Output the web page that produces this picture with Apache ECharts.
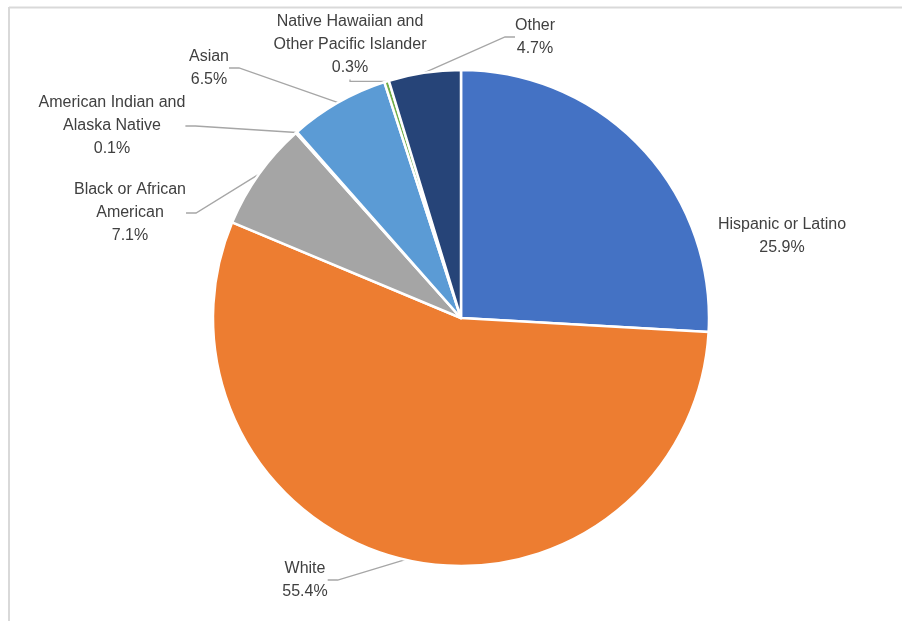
<!DOCTYPE html>
<html>
<head>
<meta charset="utf-8">
<script src="https://cdn.jsdelivr.net/npm/echarts@6/dist/echarts.min.js"></script>
<style>
html,body{margin:0;padding:0;background:#fff;}
#main{width:902px;height:621px;}
</style>
</head>
<body>
<div id="main"></div>
<script>
// race / ethnicity shares, clockwise from 12 o'clock
var groups = ['Hispanic or Latino', 'White', 'Black or African\nAmerican', 'American Indian and\nAlaska Native', 'Asian', 'Native Hawaiian and\nOther Pacific Islander', 'Other'];
var shares = [25.9, 55.4, 7.1, 0.1, 6.5, 0.3, 4.7];

var sliceColors = ['#4472C4', '#ED7D31', '#A5A5A5', '#FFC000', '#5B9BD5', '#70AD47', '#264478'];
// where each label sits (centre of text block)
var labelSpots = [[782, 236], [305, 580], [130, 213], [112, 126], [209, 68], [350, 45], [535, 37]];

var myChart = echarts.init(document.getElementById('main'));

var pieData = [];
for (var i = 0; i < groups.length; i++) {
  pieData.push({
    name: groups[i],
    value: shares[i],
    itemStyle: { color: sliceColors[i] },
    labelLine: { show: i != 0 }
  });
}

var option = {
  backgroundColor: '#fff',
  animation: false,
  graphic: [
    { type: 'line', shape: { x1: 9, y1: 7.5, x2: 902, y2: 7.5 }, style: { stroke: '#d9d9d9', lineWidth: 2 } },
    { type: 'line', shape: { x1: 9, y1: 7, x2: 9, y2: 621 }, style: { stroke: '#d9d9d9', lineWidth: 2 } }
  ],
  series: [{
    type: 'pie',
    center: [461, 318],
    radius: 248,
    startAngle: 90,
    clockwise: true,
    avoidLabelOverlap: false,
    data: pieData,
    itemStyle: { borderColor: '#fff', borderWidth: 2.5 },
    label: {
      show: true,
      position: 'outside',
      color: '#404040',
      fontFamily: 'Liberation Sans, Arial, sans-serif',
      fontSize: 16,
      lineHeight: 23,
      align: 'center',
      formatter: function (p) {
        return p.name + '\n' + p.value.toFixed(1) + '%';
      }
    },
    labelLine: {
      length: 10,
      length2: 10,
      lineStyle: { color: '#a6a6a6', width: 1.3 }
    },
    labelLayout: function (p) {
      var s = labelSpots[p.dataIndex];
      return { x: s[0], y: s[1], align: 'center', verticalAlign: 'middle' };
    },
    emphasis: { disabled: true }
  }]
};

myChart.setOption(option);
window.addEventListener('resize', function () {
  myChart.resize();
});
</script>
</body>
</html>
